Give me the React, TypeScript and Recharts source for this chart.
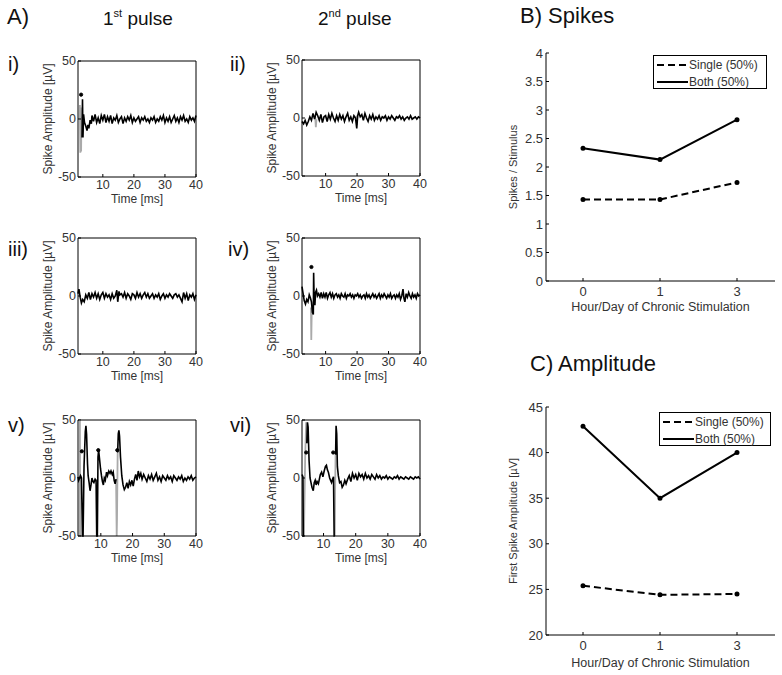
import React from 'react';
import { LineChart, Line, XAxis, YAxis, Legend } from 'recharts';

const FONT = '"Liberation Sans", Arial, Helvetica, sans-serif';
const TXT = '#333';

type Pt = [number, number | null];

// ---- A) raw spike traces, [time ms, amplitude uV] ----
const TRACE_I: Pt[] = [
  [3.3, -16], [3.45, 17], [3.6, -16], [3.8, 4], [4.1, -3], [4.5, -6], [4.9, -10], [5.2, -5], [5.5, -8], [5.9, -1],
  [6.3, -4], [6.5, 3], [7, -2], [7.5, 4], [8, -3], [8.5, 1], [9, -4], [9.5, 3], [10, -1], [10.5, 4], [11, -3],
  [11.5, 2], [12, -2], [12.5, 3], [13, -4], [13.5, 1], [14, -1], [14.5, 3], [15, -3], [15.5, 0], [16, 2], [16.5, -4],
  [17, 1], [17.5, -2], [18, 2], [18.5, -1], [19, 3], [19.5, -3], [20, 1], [20.5, -2], [21, 0], [21.5, 2], [22, -3],
  [22.5, 1], [23, -1], [23.5, 2], [24, -2], [24.5, 0], [25, -3], [25.5, 1], [26, -1], [26.5, 2], [27, -3], [27.5, 0],
  [28, -2], [28.5, 2], [29, -1], [29.5, 3], [30, -3], [30.5, 1], [31, -2], [31.5, 2], [32, -3], [32.5, 0], [33, 3],
  [33.5, -2], [34, 1], [34.5, -3], [35, 2], [35.5, -1], [36, 3], [36.5, -2], [37, 0], [37.5, -3], [38, 2], [38.5, -1],
  [39, 1], [39.5, -2], [40, 3],
];
const ARTIFACT_I: Pt[] = [[2.5, 0], [2.6, 12], [2.75, -29], [2.9, 10], [3.0, -28], [3.1, 2]];
const MARKS_I: Pt[] = [[3.0, 21]];

const TRACE_II: Pt[] = [
  [2.5, -3], [3, -5], [3.5, -2], [4, -6], [4.5, -3], [5, 1], [5.5, -2], [6, 4], [6.5, -1], [7, 5], [7.5, 2], [8, -2],
  [8.5, 3], [9, -4], [9.5, 1], [10, 2], [10.5, -3], [11, 3], [11.5, -1], [12, 4], [12.5, 0], [13, -3], [13.5, 2],
  [14, -2], [14.5, 3], [15, -1], [15.5, 2], [16, -3], [16.5, 1], [17, 4], [17.5, -2], [18, 1], [18.5, -3], [19, 2],
  [19.5, 0], [19.9, -9], [20.2, 2], [20.5, 5], [21, 1], [21.5, 3], [22, -2], [22.5, 4], [23, 0], [23.5, -3], [24, 2],
  [24.5, -1], [25, 3], [25.5, -2], [26, 1], [26.5, -1], [27, 2], [27.5, -2], [28, 1], [28.5, 0], [29, 2], [29.5, -2],
  [30, 1], [30.5, -1], [31, 2], [31.5, 0], [32, -2], [32.5, 1], [33, 0], [33.5, 2], [34, -1], [34.5, 1], [35, -2],
  [35.5, 0], [36, 1], [36.5, -1], [37, 2], [37.5, -1], [38, 0], [38.5, 1], [39, -1], [39.5, 1], [40, 0],
];
const ARTIFACT_II: Pt[] = [[6.7, 1], [6.9, -8], [7.1, -1], [7.2, null], [19.8, 2], [20, -6]];
const MARKS_II: Pt[] = [];

const TRACE_III: Pt[] = [
  [2, 2], [2.3, 6], [2.7, -1], [3.1, -6], [3.5, -3], [4, -5], [4.5, 1], [5, -2], [5.5, 3], [6, -3], [6.5, 2], [7, -1],
  [7.5, 3], [8, -2], [8.5, 2], [9, -3], [9.5, 1], [10, 3], [10.5, -2], [11, 2], [11.5, -1], [12, 1], [12.5, -3],
  [13, 2], [13.5, -2], [14, 0], [14.5, 5], [14.8, -5], [15.2, 4], [15.5, 1], [16, 2], [16.5, -1], [17, 3], [17.5, -2],
  [18, 2], [18.5, 0], [19, -3], [19.5, 2], [20, 1], [20.5, -2], [21, 3], [21.5, -1], [22, 2], [22.5, -2], [23, 1],
  [23.5, 3], [24, -1], [24.5, 2], [25, -2], [25.5, 0], [26, 2], [26.5, -2], [27, 1], [27.5, -1], [28, 2], [28.5, -3],
  [29, 0], [29.5, 2], [30, -2], [30.5, 1], [31, -1], [31.5, 2], [32, 0], [32.5, -2], [33, 1], [33.5, 2], [34, -1],
  [34.5, 1], [35, -2], [35.5, -5], [36, 3], [36.5, -2], [37, 2], [37.5, -4], [38, 1], [38.5, -1], [39, 2], [39.5, -3],
  [40, 1],
];
const ARTIFACT_III: Pt[] = [];
const MARKS_III: Pt[] = [];

const TRACE_IV: Pt[] = [
  [2.5, 8], [2.8, 3], [3.2, -4], [3.6, -7], [4.0, -3], [4.4, -5], [4.8, 1], [5.2, -2], [5.5, -5], [5.8, -14],
  [6.1, -16], [6.2, 20], [6.35, -2], [6.6, -8], [6.8, 3], [7.1, 5], [7.4, 0], [7.8, 2], [8.2, -1], [8.6, 3], [9, -2],
  [9.4, 2], [9.8, -1], [10.2, 3], [10.6, -2], [11, 1], [11.4, 3], [11.8, -1], [12.2, 2], [12.6, -2], [13, 1],
  [13.4, 2], [13.8, -1], [14.2, 1], [14.6, -2], [15, 2], [15.4, 0], [15.8, -1], [16.2, 2], [16.6, -2], [17, 1],
  [17.4, 0], [17.8, 2], [18.2, -1], [18.6, 1], [19, -2], [19.4, 1], [19.8, 0], [20.2, 2], [20.6, -1], [21, 1],
  [21.4, -2], [21.8, 0], [22.2, 1], [22.6, -2], [23, 2], [23.4, -1], [23.8, 1], [24.2, -2], [24.6, 0], [25, 2],
  [25.4, -1], [25.8, 1], [26.2, -2], [26.6, 0], [27, 2], [27.4, -2], [27.8, 1], [28.2, -1], [28.6, 2], [29, 0],
  [29.4, -2], [29.8, 1], [30.2, -1], [30.6, 2], [31, -2], [31.4, 0], [31.8, 1], [32.2, -2], [32.6, 1], [33, -1],
  [33.4, 2], [33.8, -3], [34.2, 0], [34.6, 6], [34.9, -2], [35.2, -5], [35.6, 2], [36, -1], [36.4, 3], [36.8, 0],
  [37.2, -2], [37.6, 2], [38, -1], [38.4, 1], [38.8, -2], [39.2, 2], [39.6, 0], [40, 1],
];
const ARTIFACT_IV: Pt[] = [[5.35, -10], [5.45, -38], [5.6, -12]];
const MARKS_IV: Pt[] = [[5.5, 25]];

const TRACE_V: Pt[] = [
  [2.8, 1], [3.0, -2], [3.6, 2], [3.9, 0], [4.2, -50], [4.4, -50], [4.7, 10], [5.1, 40], [5.3, 45], [5.5, 38],
  [5.8, 12], [6.0, 2], [6.3, -4], [6.6, -11], [6.9, -6], [7.2, 0], [7.5, -3], [7.8, -4], [8.2, -1], [8.5, -2],
  [8.7, -50], [8.9, -50], [9.1, 18], [9.3, 24], [9.6, 16], [9.9, 8], [10.2, 2], [10.5, -3], [10.8, -6], [11.1, 0],
  [11.4, -2], [11.8, 5], [12.1, 2], [12.5, 6], [12.9, 4], [13.2, 6], [13.6, 3], [13.9, 5], [14.2, -2], [14.5, -5],
  [14.8, -1], [15.0, null], [15.3, 22], [15.5, 38], [15.7, 41], [15.9, 36], [16.2, 18], [16.6, 2], [17.0, -6],
  [17.4, -10], [17.8, -8], [18.2, -4], [18.6, -9], [19, -3], [19.4, -6], [19.8, -2], [20.2, -7], [20.6, -1], [21, 3],
  [21.4, -2], [21.8, 6], [22.2, 1], [22.6, 4], [23, -1], [23.5, 3], [24, 0], [24.5, -3], [25, 2], [25.5, -1], [26, 3],
  [26.5, -2], [27, 1], [27.5, 4], [28, -2], [28.5, 1], [29, -3], [29.5, 2], [30, 0], [30.5, -2], [31, 2], [31.5, -1],
  [32, 1], [32.5, -3], [33, 2], [33.5, 0], [34, -2], [34.5, 1], [35, -1], [35.5, 2], [36, -3], [36.5, 0], [37, -2],
  [37.5, 1], [38, -1], [38.5, 2], [39, -2], [39.5, 0], [40, 1],
];
const ARTIFACT_V: Pt[] = [[3.3, -50], [3.4, 50], [3.5, -50], [3.6, null], [14.8, -1], [15.0, -50], [15.1, -35], [15.3, 22]];
const MARKS_V: Pt[] = [[4.0, 23], [9.2, 24], [15.2, 24]];

const TRACE_VI: Pt[] = [
  [3.3, 3], [3.6, 1], [3.7, -50], [3.9, -50], [4.0, null], [4.8, 30], [5.0, 48], [5.2, 44], [5.5, 15], [5.8, 0],
  [6.1, -4], [6.4, -8], [6.8, -11], [7.1, -4], [7.4, -2], [7.7, -6], [8.0, -3], [8.4, -5], [8.7, -1], [9.0, 3],
  [9.4, 5], [9.8, 1], [10.2, 6], [10.6, 10], [10.9, 11], [11.2, 7], [11.5, 5], [11.9, 0], [12.2, -2], [12.5, -4],
  [12.8, -1], [13.1, 1], [13.3, -50], [13.5, -50], [13.6, null], [13.75, 20], [13.9, 45], [14.1, 38], [14.3, 10],
  [14.6, 2], [15.0, -4], [15.4, -3], [15.8, -8], [16.2, -6], [16.6, -2], [17.0, -5], [17.5, -1], [18, 2], [18.5, -3],
  [19, 4], [19.5, 0], [20, 3], [20.5, -2], [21, 4], [21.5, 1], [22, 3], [22.5, -1], [23, 4], [23.5, 0], [24, 2],
  [24.5, -1], [25, 3], [25.5, 1], [26, -1], [26.5, 3], [27, 0], [27.5, 2], [28, -1], [28.5, 1], [29, 0], [29.5, 2],
  [30, -1], [30.5, 1], [31, 0], [31.5, -1], [32, 1], [32.5, 0], [33, 2], [33.5, -1], [34, 1], [34.5, 0], [35, -1],
  [35.5, 1], [36, 0], [36.5, -1], [37, 1], [37.5, 0], [38, -1], [38.5, 1], [39, 0], [39.5, 1], [40, -1],
];
const ARTIFACT_VI: Pt[] = [[3.9, -50], [4.3, 20], [4.6, 48], [4.8, 30], [4.9, null], [13.5, -50], [13.6, -10], [13.75, 20]];
const MARKS_VI: Pt[] = [[4.6, 22], [13.0, 22]];

const TIME_MAX = 40;
const TIME_TICKS = [10, 20, 30, 40];
const AMP_RANGE: [number, number] = [-50, 50];
const AMP_TICKS = [-50, 0, 50];

// ---- B) and C) summary ----
const DAYS = ['0', '1', '3'];
const SPIKES_SINGLE = [1.43, 1.43, 1.73];
const SPIKES_BOTH = [2.33, 2.13, 2.83];
const SPIKE_TICKS = [0, 0.5, 1, 1.5, 2, 2.5, 3, 3.5, 4];
const AMP_SINGLE = [25.4, 24.4, 24.5];
const AMP_BOTH = [42.9, 35.0, 40.0];
const FIRST_AMP_TICKS = [20, 25, 30, 35, 40, 45];

const SERIES = [
  { key: 'single', name: 'Single (50%)', dash: '7 4' },
  { key: 'both', name: 'Both (50%)', dash: undefined as string | undefined },
];

const rowsOf = (pts: Pt[]) => pts.map(([t, v]) => ({ t, v }));

const vLabel = (text: string, dx: number, size: number) => (props: any) => {
  const vb = props.viewBox || { x: 0, y: 0, height: 0 };
  const cx = vb.x + dx;
  const cy = vb.y + vb.height / 2;
  return (
    <text x={cx} y={cy} transform={`rotate(-90 ${cx} ${cy})`} textAnchor="middle" dominantBaseline="central" fill={TXT} fontSize={size}>
      {text}
    </text>
  );
};

interface WaveProps {
  left: number;
  top: number;
  xMin: number;
  trace: Pt[];
  artifact: Pt[];
  marks: Pt[];
}

// small boxed panel (matlab "box on")
const WavePanel: React.FC<WaveProps> = ({ left, top, xMin, trace, artifact, marks }) => {
  // top + right edge of the box, drawn through the axes' own scales
  const frame = [
    { t: xMin, v: AMP_RANGE[1] },
    { t: TIME_MAX, v: AMP_RANGE[1] },
    { t: TIME_MAX, v: AMP_RANGE[0] },
  ];
  return (
    <div style={{ position: 'absolute', left: left - 70, top: top - 10 }}>
      <LineChart width={200} height={160} margin={{ top: 10, right: 12, bottom: 0, left: 0 }}>
        <XAxis type="number" dataKey="t" domain={[xMin, TIME_MAX]} ticks={TIME_TICKS} interval={0}
          height={34} stroke="#000" tickSize={-3} tickMargin={6} tick={{ fill: TXT, fontSize: 12.5 }}
          label={{ value: 'Time [ms]', position: 'insideBottom', offset: 8, fill: TXT, fontSize: 12 }} />
        <YAxis type="number" domain={AMP_RANGE} ticks={AMP_TICKS} interval={0} width={70}
          stroke="#000" tickSize={-3} tickMargin={5} tick={{ fill: TXT, fontSize: 12.5 }}
          label={vLabel('Spike Amplitude [\u00b5V]', 40, 12)} />
        <Line data={frame} dataKey="v" stroke="#000" strokeWidth={1} dot={false} isAnimationActive={false} />
        <Line data={rowsOf(artifact)} dataKey="v" stroke="#aaa" strokeWidth={1.8} dot={false} isAnimationActive={false} />
        <Line data={rowsOf(trace)} dataKey="v" stroke="#000" strokeWidth={1.6} dot={false} isAnimationActive={false} />
        <Line data={rowsOf(marks)} dataKey="v" stroke="none" dot={{ r: 1.6, fill: '#000', stroke: '#000' }}
          isAnimationActive={false} />
      </LineChart>
    </div>
  );
};

const LegendBox = (props: any) => {
  const items: any[] = props.payload || [];
  return (
    <svg width={props.boxW} height={34} style={{ display: 'block' }}>
      <rect x={0.5} y={0.5} width={props.boxW - 1} height={33} fill="#fff" stroke="#000" />
      {SERIES.map((s, i) => {
        const it = items.find((d) => d.dataKey === s.key || d.value === s.name);
        const y = 10 + i * 17;
        return (
          <g key={s.key}>
            <line x1={4} x2={35} y1={y} y2={y} stroke="#000" strokeWidth={2} strokeDasharray={s.dash} />
            <text x={36} y={y + 4} fontSize={12} fill={TXT}>{it ? it.value : s.name}</text>
          </g>
        );
      })}
    </svg>
  );
};

interface TrendProps {
  left: number;
  top: number;
  marginTop: number;
  axisH: number;
  labelOffset: number;
  single: number[];
  both: number[];
  domain: [number, number];
  ticks: number[];
  yLabel: string;
  legendLeft: number;
  legendTop: number;
  legendW: number;
}

const TrendPanel: React.FC<TrendProps> = (p) => {
  const rows = DAYS.map((day, i) => ({ day, single: p.single[i], both: p.both[i] }));
  return (
    <div style={{ position: 'absolute', left: p.left, top: p.top }}>
      <LineChart width={282} height={290} data={rows} margin={{ top: p.marginTop, right: 7, left: 0, bottom: 0 }}>
        <XAxis dataKey="day" type="category" padding={{ left: 37, right: 38 }} height={p.axisH} interval={0}
          stroke="#000" tickSize={-3} tickMargin={9} tick={{ fill: TXT, fontSize: 13 }}
          label={{ value: 'Hour/Day of Chronic Stimulation', position: 'insideBottom', offset: p.labelOffset, fill: TXT, fontSize: 12.5 }} />
        <YAxis type="number" domain={p.domain} ticks={p.ticks} interval={0} allowDataOverflow width={46}
          stroke="#000" tickSize={-3} tickMargin={6} tick={{ fill: TXT, fontSize: 13 }}
          label={vLabel(p.yLabel, 13, 11)} />
        <Legend layout="horizontal" verticalAlign="middle" align="center"
          wrapperStyle={{ left: p.legendLeft, top: p.legendTop, width: p.legendW }}
          content={(lp: any) => <LegendBox {...lp} boxW={p.legendW} />} />
        {SERIES.map((s) => (
          <Line key={s.key} dataKey={s.key} name={s.name} stroke="#000" strokeWidth={2} strokeDasharray={s.dash}
            dot={{ r: 1.5, fill: '#000', stroke: '#000', strokeDasharray: '' }} isAnimationActive={false} />
        ))}
      </LineChart>
    </div>
  );
};

const App: React.FC = () => (
  <div style={{ position: 'absolute', left: 0, top: 0, width: 782, height: 675, background: '#fff', fontFamily: FONT, overflow: 'hidden' }}>
    <WavePanel left={78} top={61} xMin={2} trace={TRACE_I} artifact={ARTIFACT_I} marks={MARKS_I} />
    <WavePanel left={302} top={60} xMin={2.5} trace={TRACE_II} artifact={ARTIFACT_II} marks={MARKS_II} />
    <WavePanel left={78} top={238} xMin={2} trace={TRACE_III} artifact={ARTIFACT_III} marks={MARKS_III} />
    <WavePanel left={302} top={238} xMin={2.5} trace={TRACE_IV} artifact={ARTIFACT_IV} marks={MARKS_IV} />
    <WavePanel left={78} top={420} xMin={2.8} trace={TRACE_V} artifact={ARTIFACT_V} marks={MARKS_V} />
    <WavePanel left={302} top={420} xMin={3.3} trace={TRACE_VI} artifact={ARTIFACT_VI} marks={MARKS_VI} />

    <TrendPanel left={500} top={30} marginTop={23} axisH={39} labelOffset={9}
      single={SPIKES_SINGLE} both={SPIKES_BOTH} domain={[0, 4]} ticks={SPIKE_TICKS} yLabel="Spikes / Stimulus"
      legendLeft={153} legendTop={25} legendW={114} />
    <TrendPanel left={500} top={385} marginTop={22} axisH={40} labelOffset={8}
      single={AMP_SINGLE} both={AMP_BOTH} domain={[20, 45]} ticks={FIRST_AMP_TICKS} yLabel={'First Spike Amplitude [\u00b5V]'}
      legendLeft={159} legendTop={27} legendW={112} />

    <svg width={782} height={675} style={{ position: 'absolute', left: 0, top: 0, pointerEvents: 'none' }}>
      <g fill="#111">
        <text x={7} y={24} fontSize={22}>A)</text>
        <text x={103} y={25} fontSize={19}>1<tspan fontSize={11} dy={-8}>st</tspan><tspan dy={8}> pulse</tspan></text>
        <text x={318} y={25} fontSize={19}>2<tspan fontSize={11} dy={-8}>nd</tspan><tspan dy={8}> pulse</tspan></text>
        <text x={8} y={71} fontSize={20}>i)</text>
        <text x={230} y={71} fontSize={20}>ii)</text>
        <text x={8} y={256} fontSize={20}>iii)</text>
        <text x={228} y={256} fontSize={20}>iv)</text>
        <text x={8} y={432} fontSize={20}>v)</text>
        <text x={230} y={432} fontSize={20}>vi)</text>
        <text x={520} y={23} fontSize={22}>B) Spikes</text>
        <text x={530} y={371} fontSize={22}>C) Amplitude</text>
      </g>
    </svg>
  </div>
);

export default App;
